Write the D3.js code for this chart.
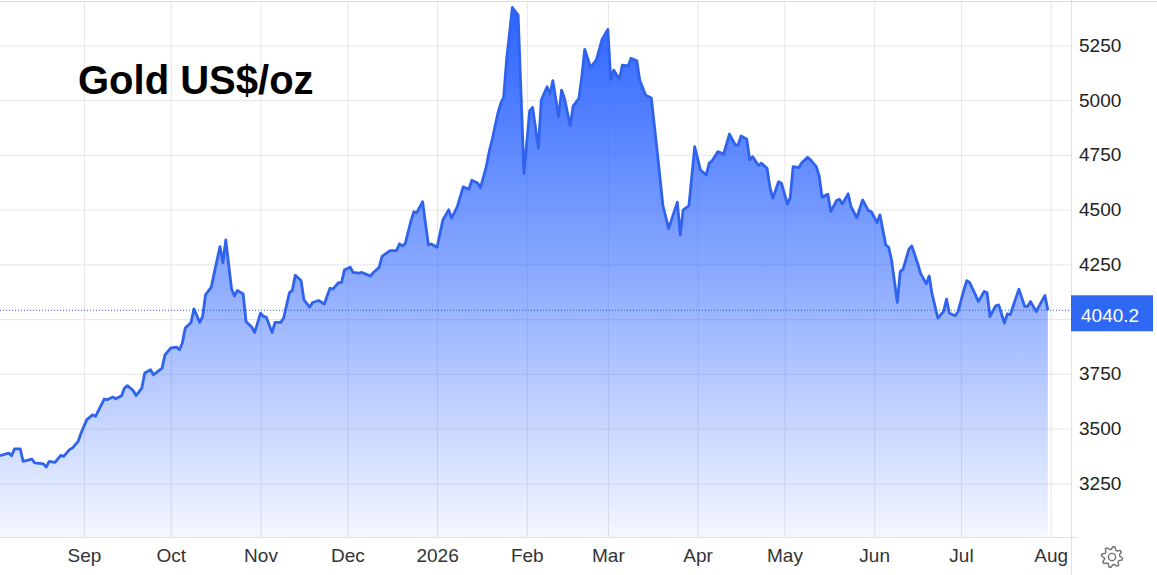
<!DOCTYPE html>
<html><head><meta charset="utf-8">
<script src="https://cdn.jsdelivr.net/npm/d3@7/dist/d3.min.js"></script>
<style>
html,body{margin:0;padding:0;background:#fff;overflow:hidden}
svg{display:block}
text{font-family:"Liberation Sans",Arial,sans-serif}
</style></head><body>
<svg id="chart" width="1157" height="575"></svg>
<script>
const title = "Gold US$/oz";
const dates = ["2025-08-03","2025-08-06","2025-08-07","2025-08-08","2025-08-10","2025-08-11","2025-08-14","2025-08-15","2025-08-18","2025-08-19","2025-08-20","2025-08-22","2025-08-24","2025-08-25","2025-08-27","2025-08-28","2025-08-30","2025-08-31",
"2025-09-02","2025-09-04","2025-09-05","2025-09-08","2025-09-09","2025-09-11","2025-09-12","2025-09-14","2025-09-15","2025-09-16","2025-09-18","2025-09-19","2025-09-21","2025-09-22","2025-09-24","2025-09-25","2025-09-26","2025-09-28","2025-09-29",
"2025-10-01","2025-10-03","2025-10-04","2025-10-05","2025-10-06","2025-10-08","2025-10-09","2025-10-11","2025-10-12","2025-10-13","2025-10-15","2025-10-16","2025-10-18","2025-10-19","2025-10-20","2025-10-22","2025-10-23","2025-10-24","2025-10-26","2025-10-27","2025-10-29","2025-10-30",
"2025-11-01","2025-11-02","2025-11-03","2025-11-05","2025-11-06","2025-11-08","2025-11-09","2025-11-11","2025-11-12","2025-11-13","2025-11-15","2025-11-16","2025-11-18","2025-11-19","2025-11-21","2025-11-22","2025-11-23","2025-11-25","2025-11-26","2025-11-28","2025-11-29","2025-11-30",
"2025-12-02","2025-12-03","2025-12-05","2025-12-06","2025-12-08","2025-12-09","2025-12-10","2025-12-12","2025-12-13","2025-12-15","2025-12-16","2025-12-18","2025-12-19","2025-12-20","2025-12-21","2025-12-23","2025-12-24","2025-12-25","2025-12-27","2025-12-29","2025-12-30",
"2026-01-01","2026-01-03","2026-01-05","2026-01-06","2026-01-08","2026-01-10","2026-01-12","2026-01-13","2026-01-15","2026-01-16","2026-01-18","2026-01-19","2026-01-20","2026-01-22","2026-01-23","2026-01-24","2026-01-25","2026-01-27","2026-01-29","2026-01-30","2026-01-31",
"2026-02-02","2026-02-03","2026-02-05","2026-02-06","2026-02-08","2026-02-09","2026-02-10","2026-02-12","2026-02-13","2026-02-14","2026-02-16","2026-02-17","2026-02-19","2026-02-20","2026-02-21","2026-02-23","2026-02-25","2026-02-27",
"2026-03-01","2026-03-02","2026-03-03","2026-03-05","2026-03-06","2026-03-08","2026-03-09","2026-03-11","2026-03-12","2026-03-14","2026-03-16","2026-03-18","2026-03-20","2026-03-22","2026-03-25","2026-03-26","2026-03-27","2026-03-29","2026-03-31",
"2026-04-02","2026-04-04","2026-04-05","2026-04-06","2026-04-08","2026-04-10","2026-04-12","2026-04-14","2026-04-15","2026-04-16","2026-04-18","2026-04-19","2026-04-20","2026-04-22","2026-04-23","2026-04-25","2026-04-26","2026-04-27","2026-04-29","2026-04-30",
"2026-05-02","2026-05-03","2026-05-04","2026-05-06","2026-05-07","2026-05-09","2026-05-10","2026-05-12","2026-05-13","2026-05-14","2026-05-16","2026-05-17","2026-05-19","2026-05-20","2026-05-21","2026-05-23","2026-05-24","2026-05-26","2026-05-28","2026-05-30","2026-05-31",
"2026-06-02","2026-06-03","2026-06-05","2026-06-06","2026-06-07","2026-06-09","2026-06-10","2026-06-11","2026-06-13","2026-06-14","2026-06-16","2026-06-17","2026-06-19","2026-06-20","2026-06-21","2026-06-23","2026-06-25","2026-06-26","2026-06-27","2026-06-29","2026-06-30",
"2026-07-02","2026-07-03","2026-07-04","2026-07-06","2026-07-07","2026-07-09","2026-07-10","2026-07-11","2026-07-13","2026-07-14","2026-07-16","2026-07-17","2026-07-18","2026-07-21","2026-07-23","2026-07-24","2026-07-25","2026-07-27","2026-07-30","2026-07-31"];
const prices = [3376,3388,3376,3407,3407,3350,3361,3343,3339,3325,3350,3346,3378,3373,3404,3411,3442,3480,
3541,3563,3556,3635,3632,3644,3636,3650,3685,3696,3674,3651,3685,3754,3769,3746,3756,3776,3837,
3868,3872,3860,3891,3959,3985,4047,3985,4012,4111,4146,4210,4331,4258,4362,4137,4106,4131,4115,3989,3963,3939,
4027,4012,4009,3939,3985,3985,4005,4121,4131,4200,4176,4088,4055,4076,4085,4078,4068,4141,4137,4167,4167,4225,
4237,4213,4210,4213,4202,4197,4213,4237,4286,4306,4313,4313,4344,4334,4345,4450,4490,4486,4536,4339,4343,
4328,4453,4499,4461,4514,4604,4593,4634,4621,4600,4696,4765,4818,4940,4985,5013,5183,5423,5388,5031,4666,
4952,4967,4780,5000,5061,5028,5089,4924,5046,5008,4882,4973,5008,5107,5232,5150,5183,5277,
5323,5092,5137,5095,5160,5156,5191,5180,5092,5023,5010,4772,4520,4413,4534,4385,4499,4517,4787,
4681,4658,4712,4722,4765,4753,4845,4795,4795,4836,4821,4727,4742,4701,4712,4689,4602,4552,4628,4620,
4526,4555,4696,4692,4714,4739,4727,4696,4654,4557,4570,4491,4541,4547,4526,4572,4514,4463,4544,4495,4491,
4441,4476,4339,4328,4270,4076,4217,4228,4319,4334,4255,4210,4161,4197,4115,4005,4035,4091,4027,4015,4035,
4134,4175,4167,4111,4080,4126,4121,4012,4061,4065,3982,4024,4020,4137,4058,4058,4080,4035,4108,4040.2];
const lastValue = 4040.2;
const lastLabel = "4040.2";
const yGridTicks = [3250,3500,3750,4000,4250,4500,4750,5000,5250];
const yLabelTicks = [3250,3500,3750,4250,4500,4750,5000,5250];
const xTickDates = ["2025-09-01","2025-10-01","2025-11-01","2025-12-01","2026-01-01","2026-02-01","2026-03-01","2026-04-01","2026-05-01","2026-06-01","2026-07-01","2026-08-01"];
const xTickLabels = ["Sep","Oct","Nov","Dec","2026","Feb","Mar","Apr","May","Jun","Jul","Aug"];
const xDomain = ["2025-08-03","2026-08-08"];
const yDomain = [3005, 5448];

const W = 1157, H = 575;
const plot = {left:0, right:1071, top:2, bottom:537};
const parse = d3.timeParse("%Y-%m-%d");
const data = dates.map((d,i)=>({date:parse(d), value:prices[i]}));

const svg = d3.select("#chart");
const x = d3.scaleTime().domain(xDomain.map(parse)).range([plot.left, plot.right]);
const y = d3.scaleLinear().domain(yDomain).range([plot.bottom, plot.top]);

const defs = svg.append("defs");
const grad = defs.append("linearGradient").attr("id","fillGrad")
  .attr("gradientUnits","userSpaceOnUse").attr("x1",0).attr("x2",0).attr("y1",plot.top).attr("y2",plot.bottom);
grad.append("stop").attr("offset",0).attr("stop-color","#2962ff").attr("stop-opacity",1);
grad.append("stop").attr("offset",0.5).attr("stop-color","#2962ff").attr("stop-opacity",0.55);
grad.append("stop").attr("offset",1).attr("stop-color","#2962ff").attr("stop-opacity",0.05);

// top border
svg.append("line").attr("x1",0).attr("x2",W).attr("y1",1.5).attr("y2",1.5).attr("stroke","#dedede");

// y grid
const yGrid = d3.axisRight(y).tickValues(yGridTicks).tickSize(-(plot.right-plot.left)).tickFormat("");
const gyg = svg.append("g").attr("transform",`translate(${plot.right},0)`).call(yGrid);
gyg.select(".domain").remove();
gyg.selectAll(".tick line").attr("stroke","#e6e6e6");

// y labels
const yAxis = d3.axisRight(y).tickValues(yLabelTicks).tickSize(0).tickPadding(8).tickFormat(d3.format("d"));
const gy = svg.append("g").attr("transform",`translate(${plot.right},0)`).call(yAxis);
gy.select(".domain").remove();
gy.selectAll(".tick text").attr("fill","#222").style("font-size","19px").attr("text-anchor","start");

// x axis grid + labels
const xAxis = d3.axisBottom(x).tickValues(xTickDates.map(parse)).tickFormat((d,i)=>xTickLabels[i])
  .tickSize(-(plot.bottom-plot.top)).tickPadding(12);
const gx = svg.append("g").attr("transform",`translate(0,${plot.bottom})`).call(xAxis);
gx.select(".domain").remove();
gx.selectAll(".tick line").attr("stroke","#e6e6e6");
gx.selectAll(".tick text").attr("fill","#333").style("font-size","19px");

// area + line
const area = d3.area().x(d=>x(d.date)).y0(plot.bottom).y1(d=>y(d.value));
svg.append("path").datum(data).attr("d",area).attr("fill","url(#fillGrad)");
const line = d3.line().x(d=>x(d.date)).y(d=>y(d.value));
svg.append("path").datum(data).attr("d",line).attr("fill","none").attr("stroke","#2f63ee")
  .attr("stroke-width",2.8).attr("stroke-linejoin","round");

// bottom axis line & right border
svg.append("line").attr("x1",0).attr("x2",1078).attr("y1",plot.bottom+0.5).attr("y2",plot.bottom+0.5).attr("stroke","#e2e2e2");
svg.append("line").attr("x1",plot.right+0.5).attr("x2",plot.right+0.5).attr("y1",0).attr("y2",H).attr("stroke","#e2e2e2");

// last value dotted line
const yv = y(lastValue);
svg.append("line").attr("x1",0).attr("x2",plot.right).attr("y1",yv).attr("y2",yv)
  .attr("stroke","#2d5fd6").attr("stroke-width",1).attr("stroke-dasharray","1,2");

// value box
svg.append("rect").attr("x",plot.right).attr("y",yv-15).attr("width",82).attr("height",36).attr("fill","#2f68f2");
svg.append("text").attr("x",plot.right+10).attr("y",yv+11.5).attr("fill","#fff").style("font-size","19px").text(lastLabel);

// title
svg.append("text").attr("x",78).attr("y",94).attr("fill","#000").style("font-size","40px").style("font-weight","bold").text(title);

// gear icon
const gc = {x:1112, y:557};
const teeth = 8, rO = 10.5, rI = 7.8;
const pts = [];
for (let i=0;i<teeth*4;i++){
  const a = (i/(teeth*4))*Math.PI*2 - Math.PI/2 + Math.PI/(teeth*4);
  const r = (i%4===0||i%4===1) ? rO : rI;
  pts.push([gc.x + r*Math.cos(a), gc.y + r*Math.sin(a)]);
}
svg.append("path").attr("d", d3.line().curve(d3.curveLinearClosed)(pts)).attr("fill","none").attr("stroke","#707070").attr("stroke-width",1.4).attr("stroke-linejoin","round");
svg.append("circle").attr("cx",gc.x).attr("cy",gc.y).attr("r",3.6).attr("fill","none").attr("stroke","#707070").attr("stroke-width",1.4);
</script>
</body></html>
